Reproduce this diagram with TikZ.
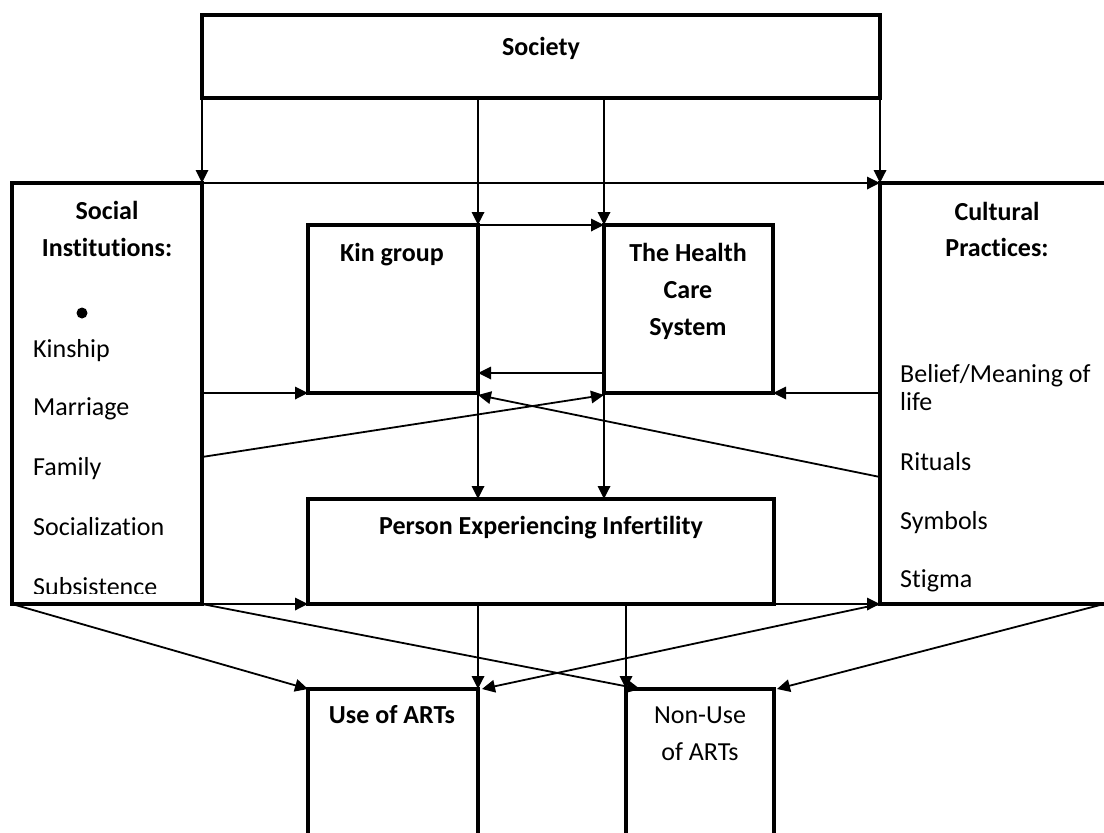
\documentclass[tikz,border=0pt]{standalone}
\usepackage{fontspec}
\setmainfont{Carlito}[Ligatures={NoCommon,NoRare,NoContextual}]
\usetikzlibrary{arrows.meta}
\begin{document}
\begin{tikzpicture}[x=1pt,y=-1pt,
  box/.style={draw, line width=4.6pt, rectangle, inner sep=0pt, outer sep=0pt, anchor=north west},
  arr/.style={line width=1.8pt, -{Triangle[length=13pt,width=12.5pt]}},
  lbl/.style={inner sep=0pt, font=\fontsize{26}{30}\selectfont},
  blbl/.style={inner sep=0pt, font=\fontsize{26}{30}\selectfont\bfseries},
]
\useasboundingbox (0,0) rectangle (1104,833);
\clip (0,0) rectangle (1104,833);

% boxes
\node[box, minimum width=678pt, minimum height=83pt] (society) at (202,15) {};
\node[box, minimum width=190pt, minimum height=421pt] (social) at (12,183) {};
\node[box, minimum width=228pt, minimum height=421pt] (cultural) at (880,183) {};
\node[box, minimum width=170pt, minimum height=168pt] (kin) at (308,225) {};
\node[box, minimum width=169pt, minimum height=168pt] (health) at (604,225) {};
\node[box, minimum width=466pt, minimum height=105pt] (person) at (308,499) {};
\node[box, minimum width=170pt, minimum height=200pt] (use) at (308,689) {};
\node[box, minimum width=148pt, minimum height=200pt] (nonuse) at (626,689) {};

% texts
\node[blbl, anchor=base] (tsociety) at (541,55) {Society};
\node[blbl, anchor=base] (tsocial1) at (107,219) {Social};
\node[blbl, anchor=base] (tsocial2) at (107,256) {Institutions:};
\node[circle, fill, inner sep=0pt, minimum size=11pt] (bullet) at (82,313) {};
\node[lbl, anchor=base west] (tkinship) at (33,357) {Kinship};
\node[lbl, anchor=base west] (tmarriage) at (33,415) {Marriage};
\node[lbl, anchor=base west] (tfamily) at (33,475) {Family};
\node[lbl, anchor=base west] (tsocialization) at (33,535) {Socialization};
\begin{scope}
  \clip (14,560) rectangle (200,593);
  \node[lbl, anchor=base west] (tsubsistence) at (33,595) {Subsistence};
\end{scope}

\node[blbl, anchor=base] (tcult1) at (997,220) {Cultural};
\node[blbl, anchor=base] (tcult2) at (997,256) {Practices:};
\node[lbl, anchor=base west] (tbelief) at (900,382) {Belief/Meaning of};
\node[lbl, anchor=base west] (tlife) at (900,410) {life};
\node[lbl, anchor=base west] (trituals) at (900,470) {Rituals};
\node[lbl, anchor=base west] (tsymbols) at (900,529) {Symbols};
\node[lbl, anchor=base west] (tstigma) at (900,587) {Stigma};

\node[blbl, anchor=base] (tkin) at (392,261) {Kin group};
\node[blbl, anchor=base] (thealth1) at (688,261) {The Health};
\node[blbl, anchor=base] (thealth2) at (688,298) {Care};
\node[blbl, anchor=base] (thealth3) at (688,335) {System};
\node[blbl, anchor=base] (tperson) at (541,534) {Person Experiencing Infertility};
\node[blbl, anchor=base] (tuse) at (392,723) {Use of ARTs};
\node[lbl, anchor=base] (tnonuse1) at (700,723) {Non-Use};
\node[lbl, anchor=base] (tnonuse2) at (700,760) {of ARTs};

% connectors
\draw[arr] (society.south west) -- (social.north east);
\draw[arr] (society.south east) -- (cultural.north west);
\draw[arr] (society.south -| kin.north east) -- (kin.north east);
\draw[arr] (society.south -| health.north west) -- (health.north west);
\draw[arr] (social.north east) -- (cultural.north west);
\draw[arr] (kin.north east) -- (health.north west);
\draw[arr] ([yshift=20pt]health.south west) -- ([yshift=20pt]kin.south east);
\draw[arr] (social.east |- kin.south west) -- (kin.south west);
\draw[arr] (cultural.west |- health.south east) -- (health.south east);
\draw[arr] ([yshift=-63.5pt]social.east) -- ([yshift=-2pt]health.south west);
\draw[arr] ([yshift=-83.5pt]cultural.west) -- ([yshift=-2pt]kin.south east);
\draw[arr] (kin.south east) -- (kin.south east |- person.north);
\draw[arr] (health.south west) -- (health.south west |- person.north);
\draw[arr] (social.south east) -- (person.south west);
\draw[arr] (person.south east) -- (cultural.south west);
\draw[arr] (person.south -| use.north east) -- (use.north east);
\draw[arr] (person.south -| nonuse.north west) -- (nonuse.north west);
\draw[arr] (social.south west) -- (use.north west);
\draw[arr] (social.south east) -- ([xshift=14pt]nonuse.north west);
\draw[arr] (cultural.south west) -- ([xshift=4pt]use.north east);
\draw[arr] ([xshift=-4pt]cultural.south east) -- ([xshift=3pt]nonuse.north east);
\end{tikzpicture}
\end{document}
